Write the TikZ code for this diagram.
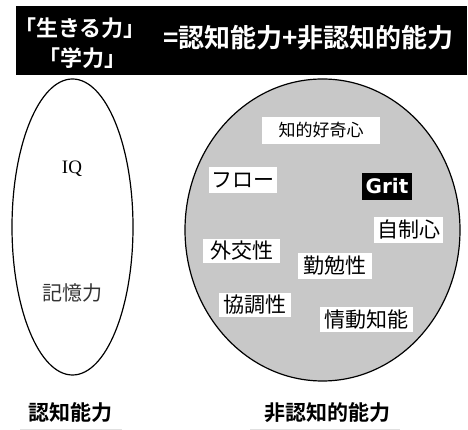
\documentclass[tikz,border=0pt]{standalone}
\usepackage{fontspec}
\newfontfamily\jp{Noto Sans CJK JP}
\newfontfamily\jpb{Noto Sans CJK JP Bold}
\newfontfamily\serifIQ{Liberation Serif}
\newfontfamily\gritfont{DejaVu Sans}
\definecolor{circfill}{RGB}{200,200,200}
\begin{document}
\begin{tikzpicture}[x=1pt,y=1pt,
  lbl/.style={fill=white, inner sep=0pt, font=\jp\fontsize{21}{21}\selectfont, text=black},
  title/.style={text=white, inner sep=0pt, font=\jpb\fontsize{22}{22}\selectfont},
  caption/.style={inner sep=0pt, font=\jpb\fontsize{21}{21}\selectfont}]
\useasboundingbox (0,0) rectangle (468,430);
% banner
\fill[black] (16,355) rectangle (467,424);
\node[title] (t1) at (80,402) {「生きる力」};
\node[title] (t2) at (82,372) {「学力」};
\node[title, anchor=west, font=\jpb\fontsize{26}{26}\selectfont] (t3) at (163,392) {=認知能力+非認知的能力};
% left ellipse
\draw[line width=1.2pt] (72.5,203) ellipse [x radius=60.5, y radius=148];
\node[inner sep=0pt, font=\serifIQ\fontsize{19}{19}\selectfont] (iq) at (72,261) {IQ};
\node[inner sep=0pt, font=\jp\fontsize{20}{20}\selectfont, text=black!80] (mem) at (72,137) {記憶力};
% right circle
\draw[line width=1.2pt, fill=circfill] (322.5,200) ellipse [x radius=137.5, y radius=151];
\node[lbl, minimum width=118, minimum height=27, font=\jp\fontsize{17}{17}\selectfont] (a) at (321,299.5) {知的好奇心};
\node[lbl, minimum width=68, minimum height=26] (b) at (243,250) {フロー};
\node[fill=black, text=white, inner sep=0pt, minimum width=50, minimum height=27, font=\gritfont\bfseries\fontsize{20}{20}\selectfont] (c) at (387,243.5) {Grit};
\node[lbl, minimum width=69, minimum height=26] (d) at (408.5,200) {自制心};
\node[lbl, minimum width=77, minimum height=24] (e) at (241.5,179) {外交性};
\node[lbl, minimum width=74, minimum height=26] (f) at (335,164) {勤勉性};
\node[lbl, minimum width=72, minimum height=24] (g) at (255,125) {協調性};
\node[lbl, minimum width=93, minimum height=25] (h) at (366.5,110.5) {情動知能};
% captions
\node[caption] (k1) at (70,17) {認知能力};
\node[caption] (k2) at (327,17) {非認知的能力};
\draw[black!12, line width=0.8pt] (20,1) -- (122,1);
\draw[black!12, line width=0.8pt] (250,1) -- (400,1);
\end{tikzpicture}
\end{document}
